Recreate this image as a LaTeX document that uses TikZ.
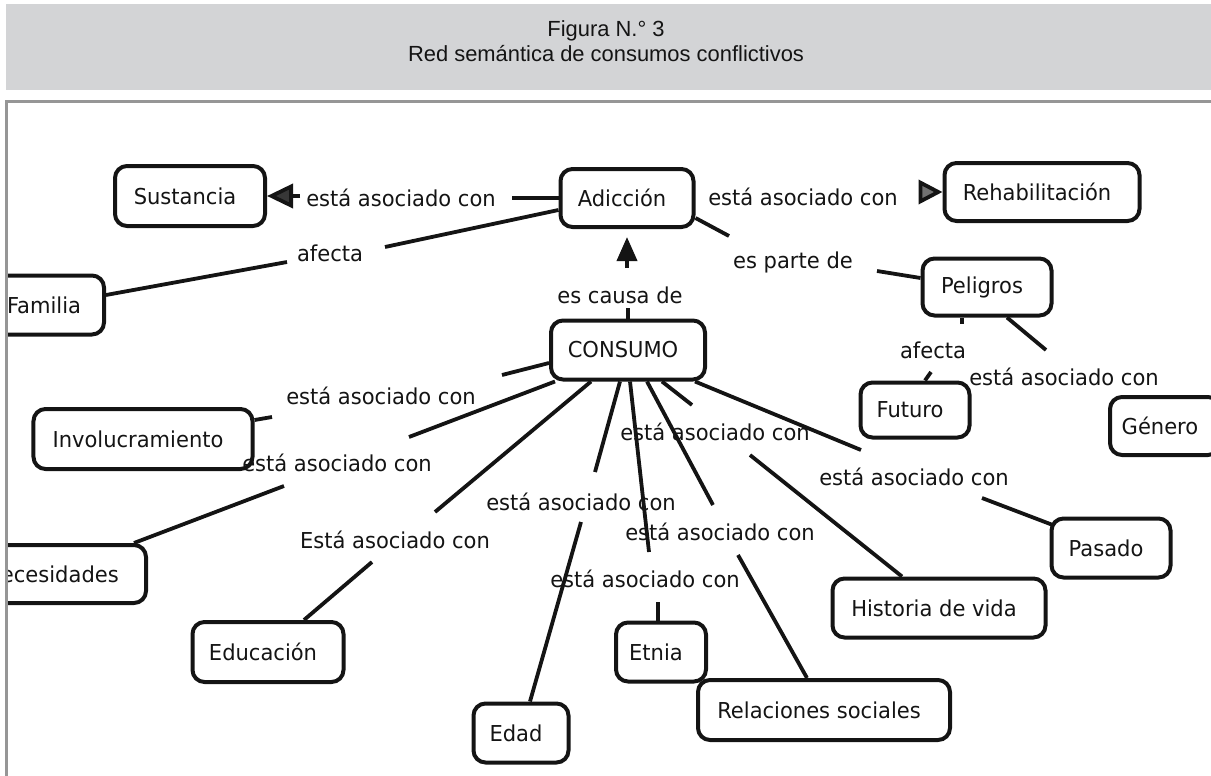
\documentclass[tikz,border=0pt]{standalone}
\usepackage{fontspec}
\setmainfont{DejaVu Sans}[FakeStretch=0.96]
\newfontfamily\titlefont{Liberation Sans}
\usetikzlibrary{arrows.meta,calc}
\definecolor{band}{RGB}{211,212,214}
\definecolor{framegray}{RGB}{150,150,150}
\definecolor{ink}{RGB}{20,20,20}
\begin{document}
\begin{tikzpicture}[x=1bp,y=-1bp,
  concept/.style={draw=ink, line width=4bp, rounded corners=12bp, inner sep=0pt,
    text=ink, font=\fontsize{22}{26}\selectfont, execute at end node={\hspace*{10bp}}},
  lbl/.style={inner sep=0pt, text=ink, font=\fontsize{22}{26}\selectfont},
  conn/.style={draw=ink, line width=3.8bp},
  arr/.style={conn, -{Triangle[length=26bp,width=24bp,fill=ink!85]}},
]
\useasboundingbox (0,0) rectangle (1211,776);
% header band
\fill[band] (6,4) rectangle (1211,90);
\node[font=\titlefont\fontsize{22}{25}\selectfont, align=center, text=ink] (title) at (606,41)
  {Figura N.° 3\\Red semántica de consumos conflictivos};

\begin{scope}
\clip (8,104) rectangle (1211,776);
% concepts
\node[concept, minimum width=150bp, minimum height=60bp] (Sust) at (190,196) {Sustancia};
\node[concept, minimum width=133bp, minimum height=58bp] (Adic) at (627,198) {Adicción};
\node[concept, minimum width=195bp, minimum height=58bp] (Rehab) at (1042,192) {Rehabilitación};
\node[concept, minimum width=110bp, minimum height=59bp] (Fam) at (49,305) {Familia};
\node[concept, minimum width=129bp, minimum height=57bp] (Pel) at (987,287) {Peligros};
\node[concept, minimum width=154bp, minimum height=59bp] (Cons) at (628,350) {CONSUMO};
\node[concept, minimum width=109bp, minimum height=55bp] (Fut) at (915,410) {Futuro};
\node[concept, minimum width=110bp, minimum height=58bp] (Gen) at (1165,426) {Género};
\node[concept, minimum width=219bp, minimum height=60bp] (Inv) at (143,439) {Involucramiento};
\node[concept, minimum width=178bp, minimum height=58bp] (Nec) at (57,574) {Necesidades};
\node[concept, minimum width=119bp, minimum height=59bp] (Pas) at (1111,548) {Pasado};
\node[concept, minimum width=213bp, minimum height=59bp] (Hist) at (939,608) {Historia de vida};
\node[concept, minimum width=151bp, minimum height=60bp] (Edu) at (268,652) {Educación};
\node[concept, minimum width=95bp, minimum height=59bp] (Edad) at (521,733) {Edad};
\node[concept, minimum width=90bp, minimum height=59bp] (Etn) at (661,652) {Etnia};
\node[concept, minimum width=252bp, minimum height=60bp] (Rel) at (824,710) {Relaciones sociales};

% linking phrases
\node[lbl] (L1) at (401,198) {está asociado con};
\node[lbl] (L2) at (803,197) {está asociado con};
\node[lbl] (L3) at (330,253) {afecta};
\node[lbl] (L4) at (793,262) {es parte de};
\node[lbl] (L5) at (620,295) {es causa de};
\node[lbl] (L6) at (933,350) {afecta};
\node[lbl] (L7) at (1064,377) {está asociado con};
\node[lbl] (L8) at (381,396) {está asociado con};
\node[lbl] (L9) at (337,463) {está asociado con};
\node[lbl] (L10) at (395,540) {Está asociado con};
\node[lbl] (L11) at (581,502) {está asociado con};
\node[lbl] (L12) at (715,432) {está asociado con};
\node[lbl] (L13) at (914,477) {está asociado con};
\node[lbl] (L14) at (720,532) {está asociado con};
\node[lbl] (L15) at (645,579) {está asociado con};

% free ends of connectors
\coordinate (e1) at (512,198);
\coordinate (s1) at (300,196);
\coordinate (r1) at (921,192);
\coordinate (a3) at (385,247);
\coordinate (b3) at (287,262);
\coordinate (a4) at (729,236);
\coordinate (b4) at (877,271);
\coordinate (a5) at (628,308);
\coordinate (b5) at (627,268);
\coordinate (a6) at (962,324);
\coordinate (b6) at (931,372);
\coordinate (a7) at (1046,350);
\coordinate (a8) at (502,375);
\coordinate (b8) at (272,417);
\coordinate (a9) at (409,437);
\coordinate (b9) at (284,486);
\coordinate (a10) at (435,512);
\coordinate (b10) at (372,562);
\coordinate (a11) at (595,472);
\coordinate (b11) at (581,522);
\coordinate (a12) at (692,405);
\coordinate (b12) at (750,455);
\coordinate (a13) at (861,450);
\coordinate (b13) at (982,498);
\coordinate (a14) at (713,505);
\coordinate (b14) at (738,555);
\coordinate (a15) at (649,552);
\coordinate (b15) at (658,602);

% connectors
\draw[conn] (Adic.west) -- (e1);
\draw[arr] (s1) -- (Sust.east);
\draw[conn, -{Triangle[length=24bp,width=24bp,fill=ink!60]}] (r1) -- (Rehab.west);
\draw[conn] ($(Adic.west)+(0,12)$) -- (a3);
\draw[conn] (b3) -- ($(Fam.east)+(0,-10)$);
\draw[conn] ($(Adic.east)+(0,20)$) -- (a4);
\draw[conn] (b4) -- ($(Pel.west)+(0,-9)$);
\draw[conn] (Cons.north) -- (a5);
\draw[conn, -{Triangle[length=24bp,width=20bp]}, shorten >=8bp] (b5) -- (Adic.south);
\draw[conn] ($(Pel.south)+(-25,0)$) -- (a6);
\draw[conn] (b6) -- ($(Fut.north)+(10,0)$);
\draw[conn] ($(Pel.south)+(20,0)$) -- (a7);
\draw[conn] ($(Cons.west)+(0,13)$) -- (a8);
\draw[conn] (b8) -- ($(Inv.east)+(0,-19)$);
\draw[conn] ($(Cons.south west)+(6,0)$) -- (a9);
\draw[conn] (b9) -- ($(Nec.north east)+(-14,0)$);
\draw[conn] ($(Cons.south west)+(42,0)$) -- (a10);
\draw[conn] (b10) -- ($(Edu.north)+(36,0)$);
\draw[conn] ($(Cons.south)+(-8,0)$) -- (a11);
\draw[conn] (b11) -- ($(Edad.north)+(9,0)$);
\draw[conn] ($(Cons.south)+(2,0)$) -- (a15);
\draw[conn] (b15) -- ($(Etn.north)+(-3,0)$);
\draw[conn] ($(Cons.south)+(19,0)$) -- (a14);
\draw[conn] (b14) -- ($(Rel.north)+(-17,0)$);
\draw[conn] ($(Cons.south)+(34,0)$) -- (a12);
\draw[conn] (b12) -- ($(Hist.north)+(-37,0)$);
\draw[conn] ($(Cons.south east)+(-12,0)$) -- (a13);
\draw[conn] (b13) -- ($(Pas.north west)+(2,8)$);
\end{scope}

% frame
\draw[framegray, line width=3bp] (6,776) -- (6,101.5) -- (1211,101.5);
\end{tikzpicture}
\end{document}
